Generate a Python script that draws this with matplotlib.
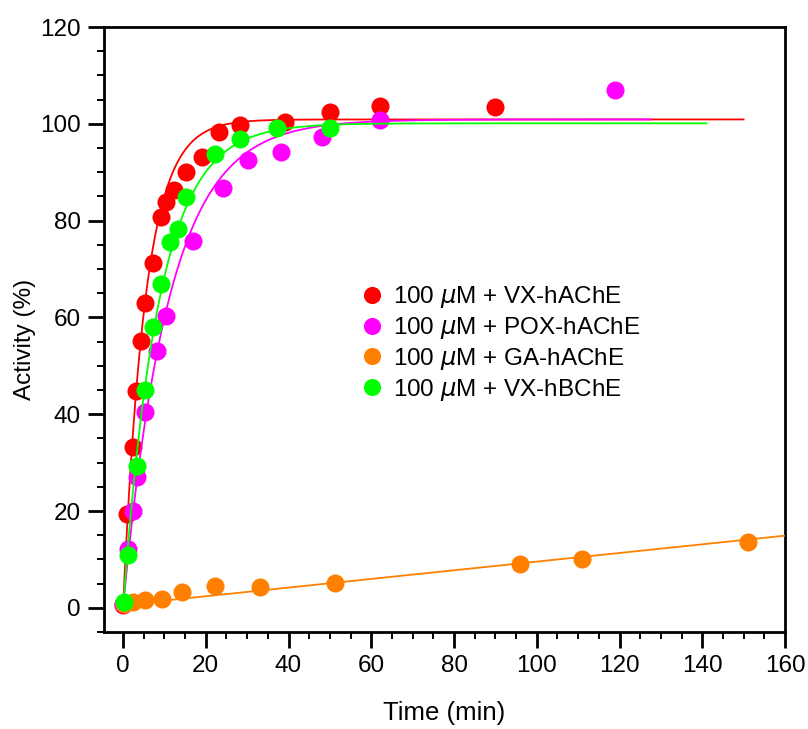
import numpy as np
from matplotlib import pyplot as plt
from matplotlib.ticker import MultipleLocator

plt.rcParams['font.family'] = ['Liberation Sans', 'DejaVu Sans']

# measured points (time in min, activity in %)
vx_ache_t = [0.0, 1.0, 2.3, 3.1, 4.3, 5.3, 7.2, 9.2, 10.3, 12.2, 15.2, 19.2, 23.2, 28.3, 39.2, 50.0, 62.1, 89.9]
vx_ache_y = [0.5, 19.4, 33.3, 44.7, 55.1, 63.0, 71.2, 80.7, 83.8, 86.3, 90.0, 93.1, 98.4, 99.8, 100.4, 102.5, 103.7, 103.5]

pox_ache_t = [0.0, 1.3, 2.3, 3.3, 5.2, 8.3, 10.3, 16.8, 24.2, 30.3, 38.2, 48.0, 62.1, 118.9]
pox_ache_y = [0.8, 12.1, 20.0, 27.0, 40.4, 53.1, 60.2, 75.7, 86.8, 92.5, 94.1, 97.3, 100.8, 107.0]

ga_ache_t = [0.2, 2.3, 5.3, 9.3, 14.2, 22.2, 33.1, 51.2, 96.0, 111.0, 151.0]
ga_ache_y = [0.8, 1.3, 1.6, 1.9, 3.3, 4.5, 4.2, 5.2, 9.1, 10.1, 13.6]

vx_bche_t = [0.2, 1.3, 3.3, 5.2, 7.3, 9.2, 11.4, 13.4, 15.2, 22.2, 28.3, 37.1, 50.0]
vx_bche_y = [1.3, 10.9, 29.2, 45.0, 58.1, 66.9, 75.5, 78.3, 84.9, 93.8, 96.8, 99.1, 99.1]

# fitted curve parameters: plateau, rate, end time
vx_ache_fit = (100.9, 0.185, 150)
pox_ache_fit = (100.9, 0.09, 127.5)
vx_bche_fit = (100.1, 0.115, 141)
ga_ache_fit = (0.6, 0.0894, 160)  # intercept, slope, end

labels = ["100 $\\mu$M + VX-hAChE", "100 $\\mu$M + POX-hAChE",
          "100 $\\mu$M + GA-hAChE", "100 $\\mu$M + VX-hBChE"]
colors = ["#ff0000", "#ff00ff", "#ff8000", "#00ff00"]


def exp_curve(fit):
    a, k, end = fit
    t = np.linspace(0, end, 500)
    return t, a * (1 - np.exp(-k * t))


fig = plt.figure(figsize=(8.08, 7.29), dpi=100)
ax = fig.add_axes([104 / 808, 1 - 632 / 729, 681 / 808, 605 / 729])

series = [(vx_ache_t, vx_ache_y, vx_ache_fit),
          (pox_ache_t, pox_ache_y, pox_ache_fit),
          (ga_ache_t, ga_ache_y, None),
          (vx_bche_t, vx_bche_y, vx_bche_fit)]

for i, (t, y, fit) in enumerate(series):
    if fit is None:
        b, m, end = ga_ache_fit
        tt = np.array([0, end])
        ax.plot(tt, b + m * tt, color=colors[i], lw=1.3, zorder=2 + i)
    else:
        tt, yy = exp_curve(fit)
        ax.plot(tt, yy, color=colors[i], lw=1.3, zorder=2 + i)
    ax.plot(t, y, 'o', color=colors[i], ms=13, mec='none', label=labels[i], zorder=2 + i)

ax.set_xlim(-4.6, 160)
ax.set_ylim(-5, 120)
ax.xaxis.set_major_locator(MultipleLocator(20))
ax.xaxis.set_minor_locator(MultipleLocator(5))
ax.yaxis.set_major_locator(MultipleLocator(20))
ax.yaxis.set_minor_locator(MultipleLocator(5))
ax.tick_params(which='major', length=11.5, width=2, labelsize=17.5, pad=5, direction='out')
ax.tick_params(which='minor', length=5, width=1.4, direction='out')
ax.tick_params(top=False, right=False)
for s in ax.spines.values():
    s.set_linewidth(2)

ax.set_xlabel("Time (min)", fontsize=18.5)
ax.set_ylabel("Activity (%)", fontsize=17.5)
ax.xaxis.set_label_coords(0.5, -0.114)
ax.yaxis.set_label_coords(-0.1, 0.483)

ax.legend(loc='upper left', bbox_to_anchor=(0.355, 0.595), frameon=False,
          fontsize=17.5, handletextpad=0.25, labelspacing=0.2, borderpad=0,
          handlelength=1.2, markerscale=0.95)

fig.savefig("out.png", dpi=100)
